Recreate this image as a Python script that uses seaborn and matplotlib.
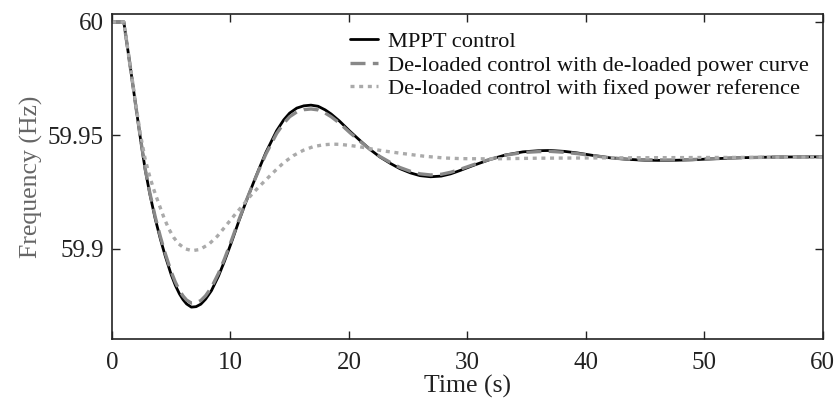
import numpy as np
import pandas as pd
import matplotlib
matplotlib.use("Agg")
import matplotlib.pyplot as plt
import seaborn as sns

# ---- data ----
t_mppt = [0, 1.0, 1.7, 2.0, 2.4, 2.8, 3.2, 3.66, 4.1, 4.5, 5.0, 5.35, 5.7, 6.0, 6.3, 6.7, 7.1,
          7.5, 7.9, 8.4, 9.0, 9.5, 10.1, 10.7, 11.3, 11.9, 12.4, 13.0, 13.9, 14.5, 15.0, 15.6,
          16.2, 16.8, 17.4, 18.0, 18.5, 19.2, 20.1, 21.0, 21.8, 22.6, 23.5, 24.3, 25.2, 26.0,
          26.9, 27.8, 28.6, 29.4, 30.5, 31.9, 33.2, 34.7, 36.0, 37.0, 38.2, 39.3, 40.5, 42.0,
          43.5, 45.0, 47.0, 49.0, 51.0, 53.0, 56.0, 60.0]
f_mppt = [60.0, 60.0, 59.9745, 59.9633, 59.9487, 59.9350, 59.9240, 59.9130, 59.9040, 59.8967,
          59.8885, 59.8838, 59.8800, 59.8775, 59.8756, 59.8742, 59.8744, 59.8755, 59.8777,
          59.8815, 59.8880, 59.8945, 59.9030, 59.9120, 59.9205, 59.9285, 59.9350, 59.9425,
          59.9520, 59.9568, 59.9598, 59.9620, 59.9630, 59.9633, 59.9628, 59.9612, 59.9594,
          59.9563, 59.9517, 59.9474, 59.9437, 59.9405, 59.9376, 59.9353, 59.9334, 59.9322,
          59.9317, 59.9320, 59.9330, 59.9345, 59.9367, 59.9393, 59.9413, 59.9427, 59.9432,
          59.9433, 59.9429, 59.9422, 59.9412, 59.9401, 59.9394, 59.9390, 59.9389, 59.9392,
          59.9397, 59.9401, 59.9404, 59.9405]

t_deload = [0, 1.0, 1.7, 2.0, 2.4, 2.8, 3.2, 3.66, 4.1, 4.5, 5.0, 5.35, 5.7, 6.0, 6.3, 6.7, 7.1,
            7.5, 7.9, 8.4, 9.0, 9.5, 10.1, 10.7, 11.3, 11.9, 12.4, 13.0, 13.9, 14.5, 15.0, 15.6,
            16.2, 16.8, 17.4, 18.0, 18.5, 19.2, 20.1, 21.0, 21.8, 22.6, 23.5, 24.3, 25.2, 26.0,
            26.9, 27.8, 28.6, 29.4, 30.5, 31.9, 33.2, 34.7, 36.0, 37.0, 38.2, 39.3, 40.5, 42.0,
            43.5, 45.0, 47.0, 49.0, 51.0, 53.0, 56.0, 60.0]
f_deload = [60.0, 60.0, 59.9745, 59.9634, 59.9489, 59.9353, 59.9245, 59.9138, 59.9050, 59.8978,
            59.8898, 59.8852, 59.8815, 59.8791, 59.8773, 59.8760, 59.8761, 59.8771, 59.8792,
            59.8829, 59.8892, 59.8955, 59.9038, 59.9125, 59.9207, 59.9285, 59.9347, 59.9418,
            59.9508, 59.9553, 59.9582, 59.9603, 59.9613, 59.9616, 59.9612, 59.9598, 59.9582,
            59.9554, 59.9511, 59.9471, 59.9437, 59.9407, 59.9380, 59.9358, 59.9341, 59.9330,
            59.9325, 59.9328, 59.9337, 59.9350, 59.9370, 59.9394, 59.9412, 59.9424, 59.9428,
            59.9429, 59.9425, 59.9419, 59.9411, 59.9401, 59.9395, 59.9392, 59.9391, 59.9393,
            59.9397, 59.9401, 59.9404, 59.9405]

t_fixed = [0, 1.0, 1.7, 2.0, 2.4, 2.8, 3.15, 3.5, 3.94, 4.4, 4.79, 5.2, 5.63, 6.2, 6.76, 7.4,
           8.17, 8.9, 9.57, 10.3, 10.98, 11.7, 12.39, 13.06, 13.8, 14.47, 15.3, 16.16, 17.0,
           17.85, 18.6, 19.26, 20.1, 20.95, 22.0, 22.92, 24.32, 26.3, 28.0, 29.5, 31.9, 36.0,
           40.0, 50.0, 60.0]
f_fixed = [60.0, 60.0, 59.9750, 59.9640, 59.9505, 59.9395, 59.9325, 59.9265, 59.9200, 59.9135,
           59.9088, 59.9050, 59.9021, 59.8999, 59.8991, 59.8996, 59.9019, 59.9055, 59.9098,
           59.9145, 59.9187, 59.9233, 59.9272, 59.9307, 59.9345, 59.9378, 59.9410, 59.9434,
           59.9450, 59.9458, 59.9461, 59.9460, 59.9455, 59.9449, 59.9439, 59.9431, 59.9421,
           59.9408, 59.9400, 59.9397, 59.9396, 59.9399, 59.9400, 59.9402, 59.9403]

labels = ["MPPT control",
          "De-loaded control with de-loaded power curve",
          "De-loaded control with fixed power reference"]
x_ticks = [0, 10, 20, 30, 40, 50, 60]
y_ticks = [59.9, 59.95, 60.0]
y_tick_labels = ["59.9", "59.95", "60"]

sns.set_style("ticks")
plt.rcParams['font.family'] = ['Liberation Serif', 'DejaVu Serif']

fig = plt.figure(figsize=(8.35, 4.05), dpi=100)
ax = fig.add_axes([0.1341, 0.1622, 0.8512, 0.8032])

d1 = pd.DataFrame({"t": t_mppt, "f": f_mppt})
d2 = pd.DataFrame({"t": t_deload, "f": f_deload})
d3 = pd.DataFrame({"t": t_fixed, "f": f_fixed})

sns.lineplot(data=d1, x="t", y="f", ax=ax, color="black", lw=2.0, label=labels[0])
sns.lineplot(data=d2, x="t", y="f", ax=ax, color="#888888", lw=2.4, label=labels[1])
sns.lineplot(data=d3, x="t", y="f", ax=ax, color="#aaaaaa", lw=2.4, label=labels[2])
lines = ax.get_lines()
lines[1].set_dashes([4.5, 2.2])
lines[2].set_dashes([1.2, 1.4])

ax.set_xlim(0, 60)
ax.set_ylim(59.86, 60.0035)
ax.set_xticks(x_ticks)
ax.set_xticklabels([str(v) for v in x_ticks])
ax.set_yticks(y_ticks)
ax.set_yticklabels(y_tick_labels)
ax.tick_params(direction="in", top=True, right=True, length=6, width=1,
               labelsize=18, colors="#222222", pad=6)
ax.tick_params(axis="x", pad=9)
for s in ax.spines.values():
    s.set_linewidth(1.2)
    s.set_color("#222222")

ax.set_xlabel("Time (s)", fontsize=18.5, color="#222222", labelpad=1)
ax.set_ylabel("Frequency (Hz)", fontsize=18.5, color="#666666", labelpad=3)

leg = ax.legend(loc="upper left", bbox_to_anchor=(0.335, 0.946), frameon=False,
                fontsize=16.2, handlelength=1.25, handletextpad=0.44, labelspacing=0.12,
                borderaxespad=0, borderpad=0)
for txt in leg.get_texts():
    txt.set_color("#111111")

fig.savefig("out.png", dpi=100)
